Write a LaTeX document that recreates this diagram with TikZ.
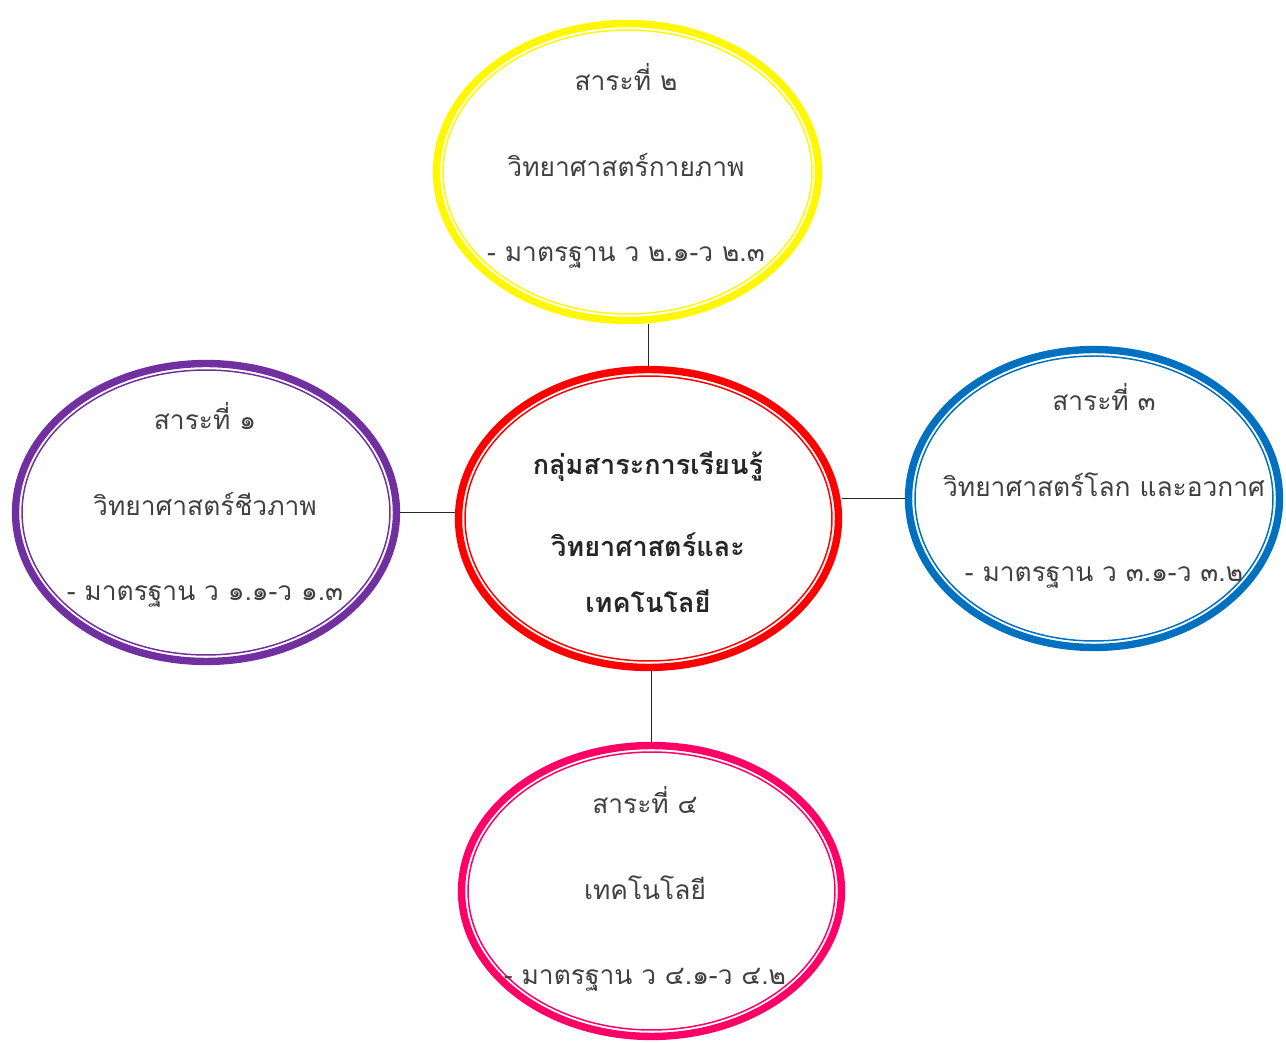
\documentclass[tikz,border=0pt]{standalone}
\usepackage{fontspec}
\newfontfamily\thaifont[Script=Thai]{Loma}
\usetikzlibrary{shapes.geometric}

\definecolor{ringyellow}{RGB}{255,248,0}
\definecolor{ringred}{RGB}{255,0,0}
\definecolor{ringblue}{RGB}{0,112,192}
\definecolor{ringpurple}{RGB}{112,48,160}
\definecolor{ringpink}{RGB}{255,0,102}
\definecolor{txtgray}{RGB}{64,64,64}

\begin{document}
\begin{tikzpicture}[x=0.02cm, y=-0.02cm,
		ring/.style={ellipse, draw=#1, line width=4.2pt, inner sep=0pt,
			minimum width=7.6cm, minimum height=5.96cm},
		inring/.style={draw=#1, line width=0.85pt},
		subtext/.style={font=\thaifont\fontsize{15}{48.8}\selectfont,
			text=txtgray, align=center},
		headtext/.style={font=\thaifont\bfseries\fontsize{15.4}{31.7}\selectfont,
			text=black!85, align=center},
		link/.style={draw=black!85, line width=1.1pt}
		]
		\useasboundingbox (0,0) rectangle (1286,1043);

		% rings
		\node[ring=ringred] (red) at (648.5,518.5) {};
		\node[ring=ringyellow, minimum width=7.64cm, minimum height=5.94cm] (yellow) at (627.5,172) {};
		\node[ring=ringblue, minimum width=7.42cm] (blue) at (1094,498.5) {};
		\node[ring=ringpurple, minimum width=7.62cm] (purple) at (206,512.5) {};
		\node[ring=ringpink, minimum height=5.82cm] (pink) at (651.5,891) {};

		% thin inner lines
		\foreach \n/\c/\rx/\ry in {red/ringred/3.67/2.85, yellow/ringyellow/3.69/2.84,
			blue/ringblue/3.58/2.85, purple/ringpurple/3.68/2.85, pink/ringpink/3.67/2.78}
		\draw[inring=\c] (\n.center) ellipse [x radius=\rx cm, y radius=\ry cm];

		% texts
		\node[headtext] (redtxt) at (648,532) {กลุ่มสาระการเรียนรู้\\[15.3pt]วิทยาศาสตร์และ\\เทคโนโลยี};
		\node[subtext] (yellowtxt) at (626,166) {สาระที่ ๒\\วิทยาศาสตร์กายภาพ\\- มาตรฐาน ว ๒.๑-ว ๒.๓};
		\node[subtext] (bluetxt) at (1104,486) {สาระที่ ๓\\วิทยาศาสตร์โลก และอวกาศ\\- มาตรฐาน ว ๓.๑-ว ๓.๒};
		\node[subtext] (purpletxt) at (205,505) {สาระที่ ๑\\วิทยาศาสตร์ชีวภาพ\\- มาตรฐาน ว ๑.๑-ว ๑.๓};
		\node[subtext] (pinktxt) at (645,889) {สาระที่ ๔\\เทคโนโลยี\\- มาตรฐาน ว ๔.๑-ว ๔.๒};

		% connectors
		\draw[link] (red.north) -- (red.north |- yellow.south);
		\draw[link] (pink.north) -- (pink.north |- red.south);
		\draw[link] (blue.west) -- (blue.west -| red.east);
		\draw[link] (purple.east) -- (purple.east -| red.west);
	\end{tikzpicture}
\end{document}
